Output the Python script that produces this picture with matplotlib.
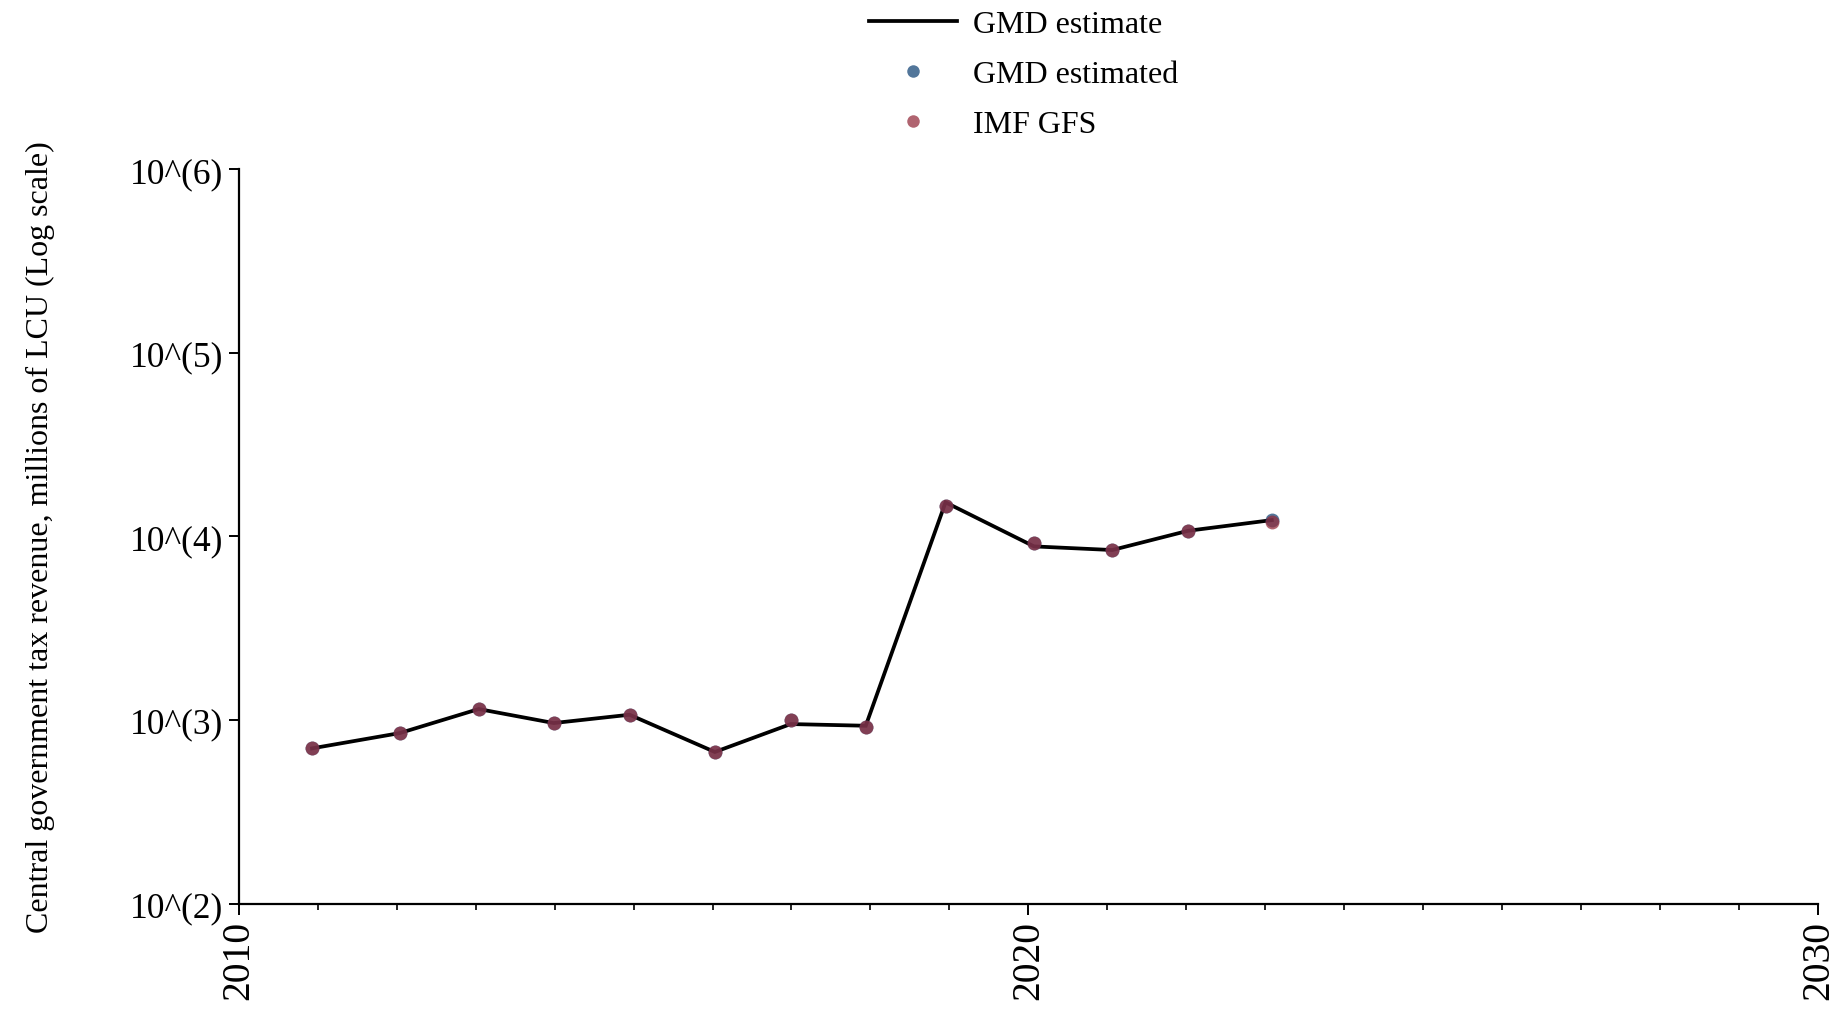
import matplotlib
matplotlib.use("Agg")
import matplotlib.pyplot as plt
from matplotlib.ticker import FixedLocator, FuncFormatter, MultipleLocator
from matplotlib.lines import Line2D

plt.rcParams['font.family'] = ['Liberation Serif', 'DejaVu Serif']

# Data (years as fractional positions)
years = [2010.93, 2012.04, 2013.04, 2013.99, 2014.95, 2016.03, 2016.99,
         2017.94, 2018.95, 2020.07, 2021.06, 2022.02, 2023.08]
gmd_estimate = [701, 849, 1148, 963, 1069, 670, 951,
                931, 15340, 8830, 8436, 10740, 12280]
gmd_estimated = [701, 849, 1148, 963, 1069, 670, 1005,
                 919, 14690, 9160, 8436, 10740, 12280]
imf_gfs = [701, 849, 1148, 963, 1069, 670, 1005,
           919, 14690, 9160, 8436, 10740, 11940]

y_ticks = [1e2, 1e3, 1e4, 1e5, 1e6]
y_tick_labels = ["10^(2)", "10^(3)", "10^(4)", "10^(5)", "10^(6)"]
x_ticks = [2010, 2020, 2030]

blue = '#124375'
red = '#932B3B'
alpha = 0.73

fig = plt.figure(figsize=(18.42, 10.12), dpi=100)
ax = fig.add_axes([0.1295, 0.1061, 0.8577, 0.7256])

ax.plot(years, gmd_estimate, color='black', lw=2.7, zorder=2,
        solid_joinstyle='miter')
ax.scatter(years, gmd_estimated, s=100, color=blue, alpha=alpha, lw=0, zorder=3)
ax.scatter(years, imf_gfs, s=100, color=red, alpha=alpha, lw=0, zorder=4)

ax.set_yscale('log')
ax.set_ylim(1e2, 1e6)
ax.set_xlim(2010, 2030)
ax.yaxis.set_major_locator(FixedLocator(y_ticks))
ax.yaxis.set_major_formatter(FuncFormatter(
    lambda v, p: y_tick_labels[y_ticks.index(v)] if v in y_ticks else ""))
ax.yaxis.set_minor_locator(FixedLocator([]))
ax.xaxis.set_major_locator(FixedLocator(x_ticks))
ax.xaxis.set_minor_locator(MultipleLocator(1))
ax.xaxis.set_major_formatter(FuncFormatter(lambda v, p: f"{int(round(v))}"))

for s in ['top', 'right']:
    ax.spines[s].set_visible(False)
for s in ['left', 'bottom']:
    ax.spines[s].set_linewidth(1.6)
    ax.spines[s].set_color('black')

ax.tick_params(axis='y', which='major', length=7, width=1.4, labelsize=25.5, pad=4)
ax.tick_params(axis='x', which='major', length=8, width=1.4, labelsize=28.5,
               labelrotation=90, pad=4)
ax.tick_params(axis='x', which='minor', length=4.5, width=1.2)

ax.set_ylabel("Central government tax revenue, millions of LCU (Log scale)",
              fontsize=23)
ax.yaxis.set_label_coords(-0.116, 0.5)

handles = [
    Line2D([], [], color='black', lw=2.7),
    Line2D([], [], color=blue, alpha=alpha, marker='o', lw=0, markersize=9,
           markeredgewidth=0),
    Line2D([], [], color=red, alpha=alpha, marker='o', lw=0, markersize=9,
           markeredgewidth=0),
]
fig.legend(handles, ["GMD estimate", "GMD estimated", "IMF GFS"],
           loc='upper center', bbox_to_anchor=(0.5557, 1.018), frameon=False,
           fontsize=23, handlelength=2.75, handletextpad=0.5,
           labelspacing=0.65)

fig.savefig("out.png", dpi=100)
